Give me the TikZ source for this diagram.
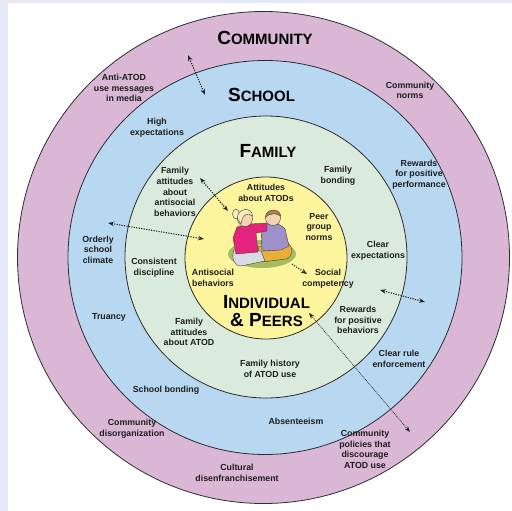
\documentclass[tikz,border=0pt]{standalone}
\usepackage{fontspec}
\setmainfont{Liberation Sans}
\usetikzlibrary{arrows.meta}
\definecolor{bgside}{RGB}{228,232,247}
\definecolor{ringpink}{RGB}{218,183,213}
\definecolor{ringblue}{RGB}{184,215,240}
\definecolor{ringgreen}{RGB}{218,234,221}
\definecolor{ringyellow}{RGB}{252,245,158}
\definecolor{ringline}{RGB}{45,45,45}
\definecolor{txt}{RGB}{30,30,30}
\definecolor{grass}{RGB}{166,188,96}
\definecolor{grasslight}{RGB}{190,206,122}
\definecolor{girlpink}{RGB}{228,36,124}
\definecolor{girlleg}{RGB}{218,218,228}
\definecolor{boypurple}{RGB}{158,144,200}
\definecolor{boyleg}{RGB}{232,176,56}
\definecolor{skin}{RGB}{244,212,172}
\definecolor{blond}{RGB}{246,236,190}
\definecolor{brownhair}{RGB}{170,130,80}
\newcommand{\capsc}[2]{{\fontsize{19}{19}\selectfont #1}{\fontsize{15}{15}\selectfont #2}}
\begin{document}
\begin{tikzpicture}[x=1pt,y=-1pt,
  lbl/.style={font=\fontsize{8.8}{10.6}\selectfont\bfseries, align=center, inner sep=0pt, text=txt},
  headtxt/.style={font=\bfseries, inner sep=0pt, text=black},
  ring/.style={draw=ringline, line width=0.8pt},
  fig/.style={draw=black!75, line width=0.4pt},
  dotarrow/.style={line width=1.1pt, dash pattern=on 1.2pt off 1.3pt, draw=black!85,
    {Stealth[length=6pt,width=4.5pt]}-{Stealth[length=6pt,width=4.5pt]}},
  dotarrowone/.style={line width=1.1pt, dash pattern=on 1.2pt off 1.3pt, draw=black!85,
    -{Stealth[length=6pt,width=4.5pt]}},
  finearrow/.style={line width=0.7pt, dash pattern=on 0.9pt off 0.9pt, draw=black!85,
    {Stealth[length=6pt,width=4.5pt]}-{Stealth[length=6pt,width=4.5pt]}}]
\useasboundingbox (0,0) rectangle (512,511);
% background
\fill[bgside] (0,0) rectangle (512,511);
\fill[white] (8,3) rectangle (512,511);
% rings
\fill[ringpink, ring] (263.5,257.5) circle[radius=246];
\fill[ringblue, ring] (265,257.5) circle[radius=197];
\fill[ringgreen, ring] (266,257) circle[radius=141];
\fill[ringyellow, ring] (266,258) circle[radius=81];
% illustration: grass
\fill[grass] (262,254) ellipse[x radius=34, y radius=14];
\fill[grasslight] (266,252) ellipse[x radius=22, y radius=8];
% boy
\filldraw[fig, fill=boyleg] (258,247) -- (288,243) .. controls (294,248) and (293,257) .. (286,259) -- (262,262) -- cycle;
\filldraw[fig, fill=boypurple] (261,227) .. controls (268,222) and (280,222) .. (285,229) -- (289,246) -- (281,250) -- (262,251) -- cycle;
\filldraw[fig, fill=skin] (273,218) circle[radius=7.5];
\filldraw[fig, fill=brownhair] (265.6,217) .. controls (265,209) and (280,207) .. (280.6,216) .. controls (277,213) and (270,213) .. cycle;
% girl
\filldraw[fig, fill=girlleg] (234,250) -- (261,251) -- (265,261) -- (241,266) .. controls (234,266) and (231,258) .. cycle;
\filldraw[fig, fill=girlpink] (237,227) -- (250,224) -- (267,223) -- (267,231) -- (256,233) -- (258,252) -- (236,254) -- (233,238) -- cycle;
\filldraw[fig, fill=blond] (236,214) ellipse[x radius=3.5, y radius=5];
\filldraw[fig, fill=skin] (245,219) circle[radius=7.5];
\filldraw[fig, fill=blond] (237.6,219) .. controls (236,208) and (252,206) .. (252.5,216) .. controls (248,213) and (243,213) .. (241,224) -- cycle;
% headings
\node[headtxt] (hcom) at (265,38.3) {\capsc{C}{OMMUNITY}};
\node[headtxt] (hsch) at (261.5,94.5) {\capsc{S}{CHOOL}};
\node[headtxt] (hfam) at (268,150.5) {\capsc{F}{AMILY}};
\node[headtxt] (hind) at (266.5,302) {\capsc{I}{NDIVIDUAL}};
\node[headtxt] (hpeer) at (266.5,320) {\capsc{\&\ P}{EERS}};
% labels
\node[lbl] (t1) at (124,88) {Anti-ATOD\\use messages\\in media};
\node[lbl] (t2) at (410,90.5) {Community\\norms};
\node[lbl] (t3) at (157,127.5) {High\\expectations};
\node[lbl] (t4) at (419,174.5) {Rewards\\for positive\\performance};
\node[lbl] (t5) at (175,192) {Family\\attitudes\\about\\antisocial\\behaviors};
\node[lbl] (t6) at (338,176) {Family\\bonding};
\node[lbl] (t7) at (266,193) {Attitudes\\about ATODs};
\node[lbl] (t8) at (319,227) {Peer\\group\\norms};
\node[lbl] (t9) at (98,249.5) {Orderly\\school\\climate};
\node[lbl] (t10) at (378,251) {Clear\\expectations};
\node[lbl] (t11) at (154,268) {Consistent\\discipline};
\node[lbl] (t12) at (213,278) {Antisocial\\behaviors};
\node[lbl] (t13) at (328,278.5) {Social\\competency};
\node[lbl] (t14) at (109,317) {Truancy};
\node[lbl] (t15) at (358,320) {Rewards\\for positive\\behaviors};
\node[lbl] (t16) at (189,332) {Family\\attitudes\\about ATOD};
\node[lbl] (t17) at (399,359) {Clear rule\\enforcement};
\node[lbl] (t18) at (270,369) {Family history\\of ATOD use};
\node[lbl] (t19) at (166,390) {School bonding};
\node[lbl] (t20) at (296,421) {Absenteeism};
\node[lbl] (t21) at (132,428.5) {Community\\disorganization};
\node[lbl] (t22) at (365,449.5) {Community\\policies that\\discourage\\ATOD use};
\node[lbl] (t23) at (237,473) {Cultural\\disenfranchisement};
% arrows
\coordinate (a1s) at (188,55);  \coordinate (a1e) at (205,95);
\coordinate (a2s) at (200,178); \coordinate (a2e) at (228,211);
\coordinate (a3s) at (108,223); \coordinate (a3e) at (204,239);
\coordinate (a4s) at (292,264); \coordinate (a4e) at (307,274);
\coordinate (a5s) at (380,290); \coordinate (a5e) at (425,302);
\coordinate (a6s) at (309,313); \coordinate (a6e) at (410,432);
\draw[dotarrow] (a1s) -- (a1e);
\draw[dotarrow] (a2s) -- (a2e);
\draw[dotarrow] (a3s) -- (a3e);
\draw[dotarrowone] (a4s) -- (a4e);
\draw[dotarrow] (a5s) -- (a5e);
\draw[finearrow] (a6s) -- (a6e);
\end{tikzpicture}
\end{document}
